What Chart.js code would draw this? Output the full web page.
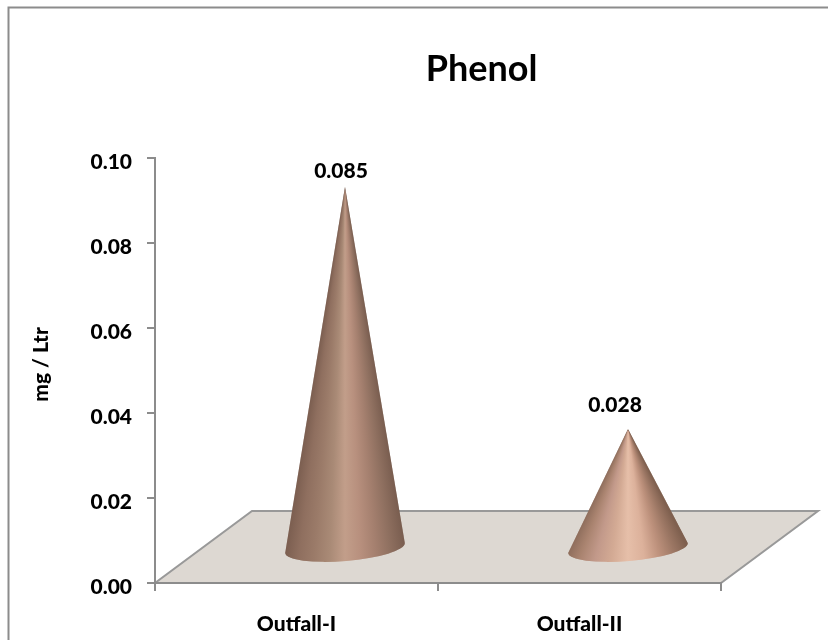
<!DOCTYPE html>
<html lang="en">
<head>
    <meta charset="UTF-8">
    <title>Phenol</title>
    <script src="https://cdn.jsdelivr.net/npm/chart.js"></script>
    <style>
        html, body { margin: 0; padding: 0; background: #fff; }
        #wrap { width: 828px; height: 641px; }
    </style>
</head>
<body>
    <div id="wrap"><canvas id="chart"></canvas></div>

    <script>
        const categories = ['Outfall-I', 'Outfall-II'];
        const phenol = [0.085, 0.028];
        const yTicks = [0.00, 0.02, 0.04, 0.06, 0.08, 0.10];

        const LINE = '#8c8c8c';
        const FONT = 'Lato, "Open Sans", sans-serif';

        // shading across each cone, left to right
        const coneShades = [
            ['#7a5d4f', '#8f6f5f', '#9b7b69', '#a98a76', '#c29e8a', '#b8907e', '#a5806f', '#8f7060', '#7a5e50'],
            ['#8a6a59', '#a9836f', '#c2998a', '#d3aa94', '#e6bfa9', '#dcb19b', '#bd917c', '#9c7764', '#7f604f']
        ];
        const labelShift = [[-4, -16], [-13, -24]];

        // floor of the 3D box
        const depth = { x: 97, y: 72 };
        const cone = { rx: 60, ry: 13, tilt: -0.083, dx: 48.5, dy: 35 };

        const frameAndFloor = {
            id: 'frameAndFloor',
            afterLayout(chart) {
                // title sits over the box including its depth
                chart.titleBlock.left = chart.chartArea.left + 95;
                chart.titleBlock.right = chart.chartArea.right - 8;
            },
            beforeDraw(chart) {
                const ctx = chart.ctx;
                const xs = chart.scales.x, ys = chart.scales.y;
                const y0 = ys.getPixelForValue(0);
                ctx.save();
                ctx.strokeStyle = LINE;
                ctx.lineWidth = 2;
                ctx.beginPath();
                ctx.moveTo(8.5, 640);
                ctx.lineTo(8.5, 7.5);
                ctx.lineTo(828, 7.5);
                ctx.stroke();

                ctx.beginPath();
                ctx.moveTo(xs.left, y0);
                ctx.lineTo(xs.right, y0);
                ctx.lineTo(xs.right + depth.x, y0 - depth.y);
                ctx.lineTo(xs.left + depth.x, y0 - depth.y);
                ctx.closePath();
                ctx.fillStyle = '#ddd8d2';
                ctx.fill();
                ctx.strokeStyle = '#999999';
                ctx.stroke();
                ctx.restore();
            }
        };

        const cones = {
            id: 'cones',
            afterDatasetsDraw(chart) {
                const ctx = chart.ctx;
                const y0 = chart.scales.y.getPixelForValue(0);
                chart.getDatasetMeta(0).data.forEach((bar, i) => {
                    const cx = bar.x + cone.dx;
                    const cy = y0 - cone.dy;
                    const tipY = cy - (y0 - bar.y);
                    ctx.save();
                    ctx.beginPath();
                    ctx.moveTo(cx, tipY);
                    ctx.ellipse(cx, cy, cone.rx, cone.ry, cone.tilt, Math.PI, 0, true);
                    ctx.closePath();
                    ctx.clip();
                    // one strip per pixel row so the shading narrows towards the tip
                    for (let y = tipY; y < cy + cone.ry + 4; y++) {
                        const w = Math.max(cone.rx * (y - tipY) / (cy - tipY), 0.5);
                        const g = ctx.createLinearGradient(cx - w, 0, cx + w, 0);
                        coneShades[i].forEach((c, k) => g.addColorStop(k / (coneShades[i].length - 1), c));
                        ctx.fillStyle = g;
                        ctx.fillRect(cx - w - 3, y, 2 * w + 6, 1.5);
                    }
                    ctx.restore();

                    ctx.save();
                    ctx.fillStyle = '#000';
                    ctx.font = `900 21px ${FONT}`;
                    ctx.textAlign = 'center';
                    ctx.textBaseline = 'middle';
                    ctx.fillText(phenol[i].toFixed(3), cx + labelShift[i][0], tipY + labelShift[i][1]);
                    ctx.restore();
                });
            }
        };

        // the reference has its y labels and axis title slightly off centre
        function nudgeY(scale) {
            if (scale.nudged) return;
            scale.nudged = true;
            const items = scale._computeLabelItems;
            scale._computeLabelItems = function (area) {
                const out = items.call(this, area);
                out.forEach(it => { it.options.translation[1] += 4; });
                return out;
            };
            const drawTitle = scale.drawTitle;
            scale.drawTitle = function () {
                this.ctx.save();
                this.ctx.translate(0, -6);
                drawTitle.call(this);
                this.ctx.restore();
            };
        }

        new Chart(document.getElementById('chart'), {
            type: 'bar',
            data: {
                labels: categories,
                datasets: [{
                    label: 'Phenol',
                    data: phenol,
                    backgroundColor: 'rgba(0,0,0,0)',
                    borderWidth: 0
                }]
            },
            plugins: [frameAndFloor, cones],
            options: {
                responsive: true,
                maintainAspectRatio: false,
                animation: false,
                layout: { padding: { left: 0, right: 107, top: 0, bottom: 0 } },
                plugins: {
                    legend: { display: false },
                    tooltip: { enabled: false },
                    title: {
                        display: true,
                        text: 'Phenol',
                        color: '#000',
                        font: { family: FONT, size: 36, weight: 'bold', lineHeight: 1.2 },
                        padding: { top: 48, bottom: 66.8 }
                    }
                },
                scales: {
                    x: {
                        grid: { display: true, drawOnChartArea: false, tickLength: 8, color: LINE, lineWidth: 2 },
                        border: { color: LINE, width: 2 },
                        ticks: {
                            color: '#000', padding: 21,
                            font: { family: FONT, size: 21, weight: '900' },
                            maxRotation: 0
                        },
                        afterFit(scale) { scale.height = 58; }
                    },
                    y: {
                        min: 0,
                        max: 0.1,
                        afterBuildTicks(scale) { scale.ticks = yTicks.map(v => ({ value: v })); },
                        grid: { display: true, drawOnChartArea: false, tickLength: 8, color: LINE, lineWidth: 2 },
                        border: { color: LINE, width: 2 },
                        ticks: {
                            color: '#000', padding: 15,
                            font: { family: FONT, size: 21, weight: '900' },
                            callback: v => v.toFixed(2)
                        },
                        title: {
                            display: true,
                            text: 'mg / Ltr',
                            color: '#000',
                            font: { family: FONT, size: 21, weight: '900' },
                            padding: { top: 29, bottom: 0 }
                        },
                        afterFit(scale) { scale.width = 155; nudgeY(scale); }
                    }
                }
            }
        });
    </script>
</body>
</html>
